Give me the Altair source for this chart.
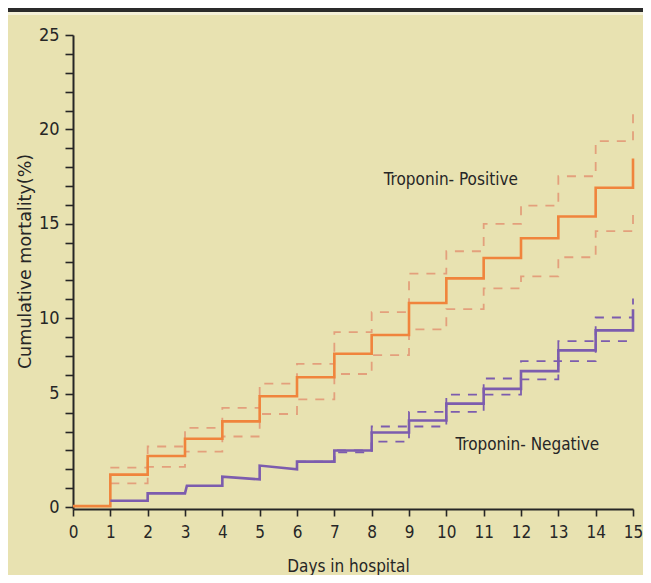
import altair as alt
import pandas as pd

# ---------------- data ----------------
days = list(range(16))

# Troponin-positive: step estimate (value held from day d to d+1)
pos_est = [0.05, 1.72, 2.71, 3.62, 4.54, 5.87, 6.88, 8.12, 9.11, 10.81,
           12.11, 13.19, 14.24, 15.39, 16.91, 18.46]
pos_ci_days = list(range(1, 16))
pos_upper = [2.09, 3.21, 4.20, 5.25, 6.54, 7.59, 9.27, 10.32, 12.36, 13.55,
             15.00, 15.96, 17.52, 19.38, 21.00]
pos_lower = [1.26, 2.13, 2.94, 3.74, 4.93, 5.71, 7.05, 8.05, 9.41, 10.48,
             11.58, 12.22, 13.23, 14.61, 15.53]

# Troponin-negative: drawn as a polyline (some treads slope slightly)
neg_x = [1, 2, 2, 3, 3.05, 4, 4, 5, 5, 6, 6, 7, 7, 8, 8, 9, 9, 10, 10, 11,
         11, 12, 12, 13, 13, 14, 14, 15, 15]
neg_y = [0.34, 0.34, 0.73, 0.73, 1.13, 1.13, 1.61, 1.47, 2.20, 2.00, 2.41,
         2.41, 3.00, 3.00, 3.95, 3.95, 4.59, 4.59, 5.48, 5.48, 6.26, 6.26,
         7.20, 7.20, 8.30, 8.30, 9.36, 9.36, 10.48]
neg_ci_days = list(range(6, 16))
neg_upper = [2.41, 3.00, 4.27, 5.04, 5.96, 6.81, 7.73, 8.79, 10.04, 11.05]
neg_lower = [2.38, 2.90, 3.47, 4.27, 5.04, 5.96, 6.76, 7.73, 8.79, 8.79]

x_ticks = list(range(16))
y_ticks = list(range(26))
y_label_pos = [0, 6, 10, 15, 20, 25]
y_label_txt = ["0", "5", "10", "15", "20", "25"]

labels = ["Troponin- Positive", "Troponin- Negative"]
label_x = [10.12, 12.17]
label_y = [17.06, 3.03]

# ---------------- styling ----------------
BG = "#e8e2b1"
ORANGE = "#f0843c"
ORANGE_CI = "#e3a07c"
PURPLE = "#7c5cae"
INK = "#262626"
NARROW = "DejaVu Sans Condensed"

W, H = 560, 474

# ---------------- tables ----------------
pos_df = pd.DataFrame({"day": days, "val": pos_est})
pos_ci = pd.concat([
    pd.DataFrame({"day": pos_ci_days, "val": pos_upper, "b": "upper"}),
    pd.DataFrame({"day": pos_ci_days, "val": pos_lower, "b": "lower"}),
])
neg_df = pd.DataFrame({"day": neg_x, "val": neg_y, "o": list(range(len(neg_x)))})
neg_ci = pd.concat([
    pd.DataFrame({"day": neg_ci_days, "val": neg_upper, "b": "upper"}),
    pd.DataFrame({"day": neg_ci_days, "val": neg_lower, "b": "lower"}),
])
lab_df = pd.DataFrame({"t": labels, "day": label_x, "val": label_y})

y_label_expr = "".join(
    f"datum.value == {p} ? '{t}' : " for p, t in zip(y_label_pos, y_label_txt)
) + "''"

xscale = alt.Scale(domain=[0, 15], nice=False)
yscale = alt.Scale(domain=[-0.1, 25], nice=False)

x_axis = alt.Axis(
    values=x_ticks, title="Days in hospital", grid=False,
    tickSize=7, tickWidth=1.6, tickColor=INK,
    domainColor=INK, domainWidth=2,
    labelFont=NARROW, labelFontSize=17, labelColor=INK, labelPadding=8,
    labelFlush=False, labelOverlap=False,
    titleFont=NARROW, titleFontSize=17, titleFontWeight="normal", titleColor=INK,
    titleX=275, titleY=62, titleBaseline="alphabetic", titleAnchor="middle",
)
y_axis = alt.Axis(
    values=y_ticks, labelExpr=y_label_expr, title="Cumulative mortality(%)",
    grid=False, tickSize=8, tickWidth=1.6, tickColor=INK,
    domainColor=INK, domainWidth=2,
    labelFont=NARROW, labelFontSize=18, labelColor=INK, labelPadding=6,
    labelFlush=False, labelOverlap=False,
    titleFont="DejaVu Sans", titleFontSize=17.5, titleFontWeight="normal",
    titleColor=INK, titleX=-43, titleY=226, titleAngle=270,
    titleBaseline="alphabetic", titleAlign="center",
)


def X():
    return alt.X("day:Q", scale=xscale, axis=x_axis)


def Y():
    return alt.Y("val:Q", scale=yscale, axis=y_axis)


pos_ci_layer = alt.Chart(pos_ci).mark_line(
    interpolate="step-after", color=ORANGE_CI, strokeWidth=1.8, strokeDash=[9, 8]
).encode(x=X(), y=Y(), detail="b:N")

neg_ci_layer = alt.Chart(neg_ci).mark_line(
    interpolate="step-after", color=PURPLE, strokeWidth=1.8, strokeDash=[9, 8]
).encode(x=X(), y=Y(), detail="b:N")

pos_layer = alt.Chart(pos_df).mark_line(
    interpolate="step-after", color=ORANGE, strokeWidth=2.6
).encode(x=X(), y=Y())

neg_layer = alt.Chart(neg_df).mark_line(
    color=PURPLE, strokeWidth=2.6
).encode(x=X(), y=Y(), order="o:Q")

text_layer = alt.Chart(lab_df).mark_text(
    font=NARROW, fontSize=17, color=INK, align="center", baseline="alphabetic"
).encode(x=X(), y=Y(), text="t:N")

top_bar = alt.Chart(pos_df).mark_rule(color="#2b2b2b", strokeWidth=3.5).encode(
    x=alt.value(-70), x2=alt.value(W + 20), y=alt.value(-25)
)
top_light = alt.Chart(pos_df).mark_rule(color="#f4f0d8", strokeWidth=3).encode(
    x=alt.value(-70), x2=alt.value(W + 20), y=alt.value(-21.5)
)

chart = alt.layer(
    pos_ci_layer, neg_ci_layer, pos_layer, neg_layer, text_layer, top_light, top_bar
).properties(
    width=W, height=H,
    padding={"left": 65, "top": 27, "right": 10, "bottom": 66},
    autosize=alt.AutoSizeParams(type="none"),
    background=BG,
).configure_view(stroke=None)

chart.save("out.html", embed_options={"renderer": "svg", "actions": False})
